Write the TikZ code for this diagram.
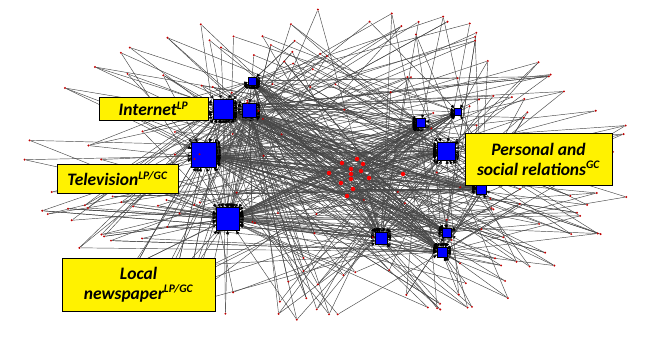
\documentclass[tikz,border=0pt]{standalone}
\usepackage{fontspec}
\setmainfont{Carlito}
\usetikzlibrary{arrows.meta, positioning}
\pgfdeclarelayer{edges}
\pgfsetlayers{edges,main}
\tikzset{
    hub/.style={draw=black, fill=blue, minimum size=#1, inner sep=0pt, line width=0.3pt},
    dot/.style={fill=red!75!black, circle, inner sep=0pt, minimum size=2.2pt},
    core/.style={fill=red, circle, inner sep=0pt, minimum size=4.5pt},
    link/.style={-{Triangle[length=3.6pt, width=3pt, black]}, draw=black!72, line width=0.45pt},
    tag/.style={draw=black, fill=yellow, line width=0.6pt, inner sep=0pt, align=center,
        font=\fontsize{17.5}{20}\selectfont\bfseries\itshape}
}
\newcommand{\sups}[1]{\textsuperscript{\fontsize{11.5}{11}\selectfont #1}}

\begin{document}
\begin{tikzpicture}[x=1pt, y=-1pt]
    \useasboundingbox (0,0) rectangle (662,346);
    % hubs
    \foreach \n/\x/\y/\s in {1/223/109/20, 2/249/110/14, 3/252/81/8, 4/204/155/25,
        5/228/219/23, 6/421/123/9, 7/458/112/7, 8/446/151/18, 9/481/189/10,
        10/381/238/12, 11/447/233/9, 12/442/252/10}
        \node[hub=\s pt] (h\n) at (\x,\y) {};
    % central cluster
    \foreach \n/\x/\y in {1/342/163, 2/357/159, 3/363/164, 4/351/169, 5/351/174,
        6/361/171, 7/329/173, 8/351/179, 9/369/178, 10/341/183, 11/353/189,
        12/347/196, 13/403/174}
        \node[core] (c\n) at (\x,\y) {};
    % outer dots
    \pgfmathsetseed{7}
    \foreach \i in {1,...,185}{
        \pgfmathsetmacro\ang{360*rnd}
        \pgfmathsetmacro\rad{0.15+0.85*sqrt(rnd)}
        \node[dot] (p\i) at ({332+312*\rad*cos(\ang)},{166+160*\rad*sin(\ang)}) {};
    }
    \begin{pgfonlayer}{edges}
        \foreach \i in {1,...,185}{
            \pgfmathtruncatemacro\nk{random(2,3)}
            \foreach \k in {1,...,\nk}{
                \pgfmathtruncatemacro\hb{{1,1,1,1,2,2,2,3,3,4,4,4,4,4,5,5,5,5,5,6,6,7,8,8,8,9,9,10,10,10,11,11,12,12,12}[random(0,34)]}
                \draw[link] (p\i) -- (h\hb);
            }
        }
        \foreach \n in {1,...,13}
            \foreach \m in {1,...,12}
                \draw[link] (c\n) -- (h\m);
        % hub to hub
        \foreach \a/\b in {1/2, 1/4, 4/5, 2/3, 1/8, 4/8, 5/10, 6/8, 10/12, 11/12, 8/9, 5/12}
            \draw[link] (h\a) -- (h\b);
    \end{pgfonlayer}
    % labels
    \node[tag, minimum width=109pt, minimum height=23pt] (internet) at (153.5,108.5) {Internet\sups{LP}};
    \node[tag, minimum width=121pt, minimum height=29pt] (tv) at (117.5,178.5) {Television\sups{LP/GC}};
    \node[tag, minimum width=147pt, minimum height=52pt] (personal) at (538.5,159) {Personal and\\social relations\sups{GC}};
    \node[tag, minimum width=153pt, minimum height=53pt] (local) at (138.5,284.5) {Local\\newspaper\sups{LP/GC}};
\end{tikzpicture}
\end{document}
